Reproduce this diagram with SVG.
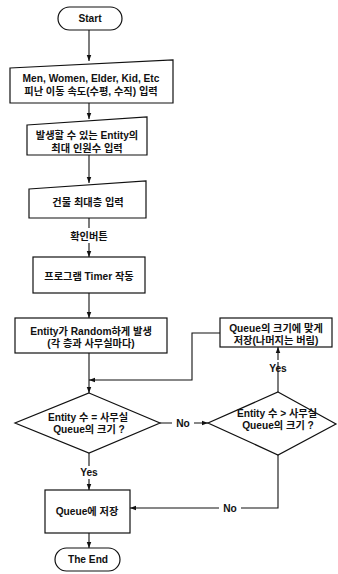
<svg xmlns="http://www.w3.org/2000/svg" width="338" height="574" viewBox="0 0 338 574">
<defs>
<marker id="ah" viewBox="0 0 8 8" refX="8" refY="4" markerWidth="6" markerHeight="6" orient="auto" markerUnits="userSpaceOnUse">
<path d="M0,1 L8,4 L0,7 Z" fill="#111"/>
</marker>
<style>
.s{fill:#fff;stroke:#111;stroke-width:1.2}
.c{fill:none;stroke:#111;stroke-width:1.1}
text{font-family:"Liberation Sans","Noto Sans CJK KR",sans-serif;font-size:10.2px;font-weight:bold;fill:#111;text-anchor:middle;dominant-baseline:central}
</style>
</defs>
<rect width="338" height="574" fill="#fff"/>
<g id="connectors">
<path class="c" d="M89,30 V61" marker-end="url(#ah)"/>
<path class="c" d="M89,103 V119" marker-end="url(#ah)"/>
<path class="c" d="M89,155 V183" marker-end="url(#ah)"/>
<path class="c" d="M89,218 V228 M89,243 V257" marker-end="url(#ah)"/>
<path class="c" d="M89,293 V318" marker-end="url(#ah)"/>
<path class="c" d="M89,353 V393" marker-end="url(#ah)"/>
<path class="c" d="M220,333 H192 V380 H89" marker-end="url(#ah)"/>
<path class="c" d="M160,423 H172 M194,423 H208" marker-end="url(#ah)"/>
<path class="c" d="M278,392 V362" />
<path class="c" d="M278,360 V347" marker-end="url(#ah)"/>
<path class="c" d="M89,453 V466 M89,479 V490" marker-end="url(#ah)"/>
<path class="c" d="M278,455 V508 H241 M219,508 H130" marker-end="url(#ah)"/>
<path class="c" d="M89,533 V548" marker-end="url(#ah)"/>
<text x="89" y="236">확인버튼</text>
<text x="183" y="423">No</text>
<text x="278" y="368">Yes</text>
<text x="89" y="472">Yes</text>
<text x="230" y="508">No</text>
</g>
<g id="start">
<rect class="s" x="58" y="7" width="64" height="23" rx="11.5"/>
<text x="90" y="18.5">Start</text>
</g>
<g id="input1">
<path class="s" d="M10,68 L173,60 L173,103 L10,103 Z"/>
<text x="91" y="78">Men, Women, Elder, Kid, Etc</text>
<text x="91" y="91">피난 이동 속도(수평, 수직) 입력</text>
</g>
<g id="input2">
<path class="s" d="M27,125 L147,117 L147,155 L27,155 Z"/>
<text x="87" y="135">발생할 수 있는 Entity의</text>
<text x="87" y="148">최대 인원수 입력</text>
</g>
<g id="input3">
<path class="s" d="M29,189 L146,181 L146,218 L29,218 Z"/>
<text x="88" y="202">건물 최대층 입력</text>
</g>
<g id="timer">
<rect class="s" x="33" y="257" width="112" height="36"/>
<text x="89" y="276">프로그램 Timer 작동</text>
</g>
<g id="generate">
<rect class="s" x="15" y="318" width="152" height="35"/>
<text x="91" y="331">Entity가 Random하게 발생</text>
<text x="91" y="343">(각 층과 사무실마다)</text>
</g>
<g id="queuefit">
<rect class="s" x="220" y="318" width="112" height="29"/>
<text x="276" y="328">Queue의 크기에 맞게</text>
<text x="276" y="340">저장(나머지는 버림)</text>
</g>
<g id="decision1">
<path class="s" d="M89,393 L160,423 L89,453 L15,423 Z"/>
<text x="88" y="417">Entity 수 = 사무실</text>
<text x="89" y="429">Queue의 크기 ?</text>
</g>
<g id="decision2">
<path class="s" d="M278,392 L336,424 L278,455 L208,423 Z"/>
<text x="277" y="413">Entity 수 &gt; 사무실</text>
<text x="278" y="425">Queue의 크기 ?</text>
</g>
<g id="store">
<rect class="s" x="45" y="490" width="85" height="43"/>
<text x="87" y="511">Queue에 저장</text>
</g>
<g id="end">
<rect class="s" x="55" y="548" width="65" height="23" rx="11.5"/>
<text x="88" y="559.5">The End</text>
</g>
</svg>
